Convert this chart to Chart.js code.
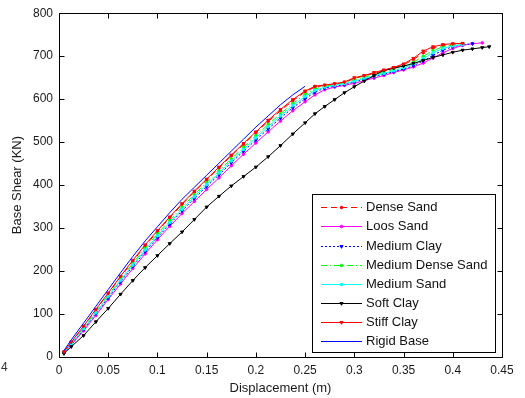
<!DOCTYPE html>
<html>
<head>
<meta charset="utf-8">
<script src="https://cdn.jsdelivr.net/npm/chart.js@4/dist/chart.umd.min.js"></script>
<style>
html,body{margin:0;padding:0;background:#fff;}
#wrap{width:525px;height:398px;position:relative;}
</style>
</head>
<body>
<div id="wrap"><canvas id="c" width="525" height="398"></canvas></div>
<script>
// ---- data ----
const seriesNames = ["Dense Sand","Loos Sand","Medium Clay","Medium Dense Sand","Medium Sand","Soft Clay","Stiff Clay","Rigid Base"];

// displacement (m) sample positions along the curves
const xLow  = [0.005,0.0125,0.025,0.0375,0.05,0.0625,0.075,0.0875,0.1,0.1125,0.125,0.1375,0.15,0.1625,0.175,0.1875,0.2,0.2125,0.225,0.2375,0.25];
const xHigh = [0.26,0.27,0.28,0.29,0.30,0.31,0.32,0.33,0.34,0.35,0.36,0.37,0.38,0.39,0.40,0.41,0.42,0.43,0.437];

// base shear (KN)
const yDenseSand       = [12,34,71,110,148,186,223,258,292,324,355,384,412,440,468,495,522,548,573,596,617, 628,632,635,639,648,654,660,666,672,680,692,708,719,725,728,729];
const yLoosSand        = [9,28,61,97,134,170,206,240,273,304,334,362,390,417,445,472,498,524,549,573,594, 610,622,628,632,637,643,649,655,662,668,675,684,696,708,718,725,729,731];
const yMediumClay      = [10,30,64,101,138,175,211,245,278,309,340,369,397,424,452,479,505,531,556,580,601, 616,626,630,634,640,646,652,658,664,670,678,689,702,714,722,727,729];
const yMediumDenseSand = [11,32,68,106,144,181,218,253,287,318,349,378,406,433,461,488,515,541,566,590,611, 624,630,634,638,645,651,657,663,669,676,686,700,713,722,726,728];
const yMediumSand      = [10,31,66,103,141,178,214,249,282,313,344,373,401,428,456,483,510,536,561,585,606, 620,628,632,636,642,648,654,660,666,673,682,694,708,718,724,727];
const ySoftClay        = [8,24,50,82,113,146,178,208,236,264,291,320,349,374,398,420,442,466,492,519,545, 566,583,599,615,629,642,655,667,672,677,683,690,697,703,709,714,717,720,722];
const yStiffClay       = [12,35,72,111,149,188,225,261,294,326,357,386,414,442,470,497,524,551,576,599,619, 630,633,636,640,650,655,662,668,674,682,695,712,722,727,729,730];
const yRigidBase       = [15,40,79,118,157,196,234,270,303,336,367,395,423,451,479,507,535,561,587,610,630];

const xTicks = [0,0.05,0.1,0.15,0.2,0.25,0.3,0.35,0.4,0.45];
const yTicks = [0,100,200,300,400,500,600,700,800];

// ---- build ----
const FONT = "'Liberation Sans', Arial, sans-serif";
const xAll = xLow.concat(xHigh);
function pts(ys){ return ys.map((y,i)=>({x:xAll[i],y:y})); }

const styles = [
  {c:'#ff0000', dash:[6,4], ps:'circle', pr:1.3, rot:0},
  {c:'#ff00ff', dash:[], ps:'circle', pr:1.3, rot:0},
  {c:'#0000ff', dash:[2,2], ps:'triangle', pr:1.8, rot:180},
  {c:'#00ff00', dash:[6,3,1,3], ps:'circle', pr:1.3, rot:0},
  {c:'#00ffff', dash:[], ps:'circle', pr:1.3, rot:0},
  {c:'#000000', dash:[], ps:'triangle', pr:1.8, rot:180},
  {c:'#ff0000', dash:[], ps:'triangle', pr:1.8, rot:180},
  {c:'#0000ff', dash:[], ps:false, pr:0, rot:0}
];
const ysAll = [yDenseSand,yLoosSand,yMediumClay,yMediumDenseSand,yMediumSand,ySoftClay,yStiffClay,yRigidBase];

const datasets = seriesNames.map((n,i)=>({
  label:n,
  data:pts(ysAll[i]),
  borderColor:styles[i].c,
  backgroundColor:styles[i].c,
  borderWidth:1,
  borderDash:styles[i].dash,
  pointStyle:styles[i].ps,
  pointRadius:styles[i].pr,
  pointRotation:styles[i].rot,
  pointBorderWidth:1,
  pointBorderColor:styles[i].c,
  pointBackgroundColor:styles[i].c,
  tension:0,
  fill:false,
  order: seriesNames.length - i
}));

const frame = {
  id:'frame',
  afterDatasetsDraw(chart){
    const ctx = chart.ctx, a = chart.chartArea;
    const xs = chart.scales.x, ys = chart.scales.y;
    ctx.save();
    ctx.strokeStyle = '#000';
    ctx.lineWidth = 1;
    ctx.setLineDash([]);
    const L = Math.round(a.left)+0.5, R = Math.round(a.right)+0.5, T = Math.round(a.top)+0.5, B = Math.round(a.bottom)+0.5;
    ctx.beginPath();
    ctx.rect(L, T, R-L, B-T);
    ctx.stroke();
    const tl = 5;
    ctx.beginPath();
    xTicks.forEach(v=>{
      const p = Math.round(xs.getPixelForValue(v))+0.5;
      ctx.moveTo(p,B); ctx.lineTo(p,B-tl);
      ctx.moveTo(p,T); ctx.lineTo(p,T+tl);
    });
    yTicks.forEach(v=>{
      const p = Math.round(ys.getPixelForValue(v))+0.5;
      ctx.moveTo(L,p); ctx.lineTo(L+tl,p);
      ctx.moveTo(R,p); ctx.lineTo(R-tl,p);
    });
    ctx.stroke();

    // legend box inside plot (bottom right)
    const bx = 312.5, by = 194.5, bw = 183, bh = 158;
    ctx.fillStyle = '#fff';
    ctx.fillRect(bx, by, bw, bh);
    ctx.strokeStyle = '#000';
    ctx.strokeRect(bx, by, bw, bh);
    ctx.font = '13px ' + FONT;
    ctx.textBaseline = 'middle';
    ctx.textAlign = 'left';
    seriesNames.forEach((name,i)=>{
      const st = styles[i];
      const yy = Math.round(207.3 + i*19.1) + 0.5;
      ctx.save();
      ctx.strokeStyle = st.c;
      ctx.fillStyle = st.c;
      ctx.lineWidth = 1;
      ctx.setLineDash(st.dash);
      ctx.beginPath();
      ctx.moveTo(321, yy); ctx.lineTo(362, yy);
      ctx.stroke();
      ctx.setLineDash([]);
      if (st.ps) {
        Chart.helpers.drawPoint(ctx, {pointStyle:st.ps, radius:st.pr, rotation:st.rot, borderWidth:1}, 341.5, yy);
      }
      ctx.restore();
      ctx.fillStyle = '#111';
      ctx.fillText(name, 366, yy);
    });

    // stray label at lower left of the figure
    ctx.font = '12px ' + FONT;
    ctx.fillStyle = '#333';
    ctx.textAlign = 'left';
    ctx.fillText('4', 1, 368);
    ctx.restore();
  }
};

new Chart(document.getElementById('c'), {
  type:'line',
  data:{datasets:datasets},
  options:{
    responsive:false,
    animation:false,
    events:[],
    layout:{padding:{left:0, top:11, right:23, bottom:0}},
    plugins:{legend:{display:false}, tooltip:{enabled:false}},
    scales:{
      x:{
        type:'linear', min:0, max:0.45,
        afterBuildTicks(s){ s.ticks = xTicks.map(v=>({value:v})); },
        afterFit(s){ s.height = 41; },
        grid:{display:false, drawTicks:false},
        border:{display:false},
        ticks:{padding:6, color:'#1a1a1a', font:{family:FONT, size:12}, maxRotation:0, autoSkip:false,
               callback:(v)=>String(+Number(v).toFixed(2))},
        title:{display:true, text:'Displacement (m)', color:'#1a1a1a', font:{family:FONT, size:13}, padding:{top:0,bottom:2}}
      },
      y:{
        type:'linear', min:0, max:800,
        afterBuildTicks(s){ s.ticks = yTicks.map(v=>({value:v})); },
        afterFit(s){ s.width = 59; },
        grid:{display:false, drawTicks:false},
        border:{display:false},
        ticks:{padding:6, color:'#1a1a1a', font:{family:FONT, size:12}, autoSkip:false},
        title:{display:true, text:'Base Shear (KN)', color:'#1a1a1a', font:{family:FONT, size:13}, padding:{top:10,bottom:0}}
      }
    }
  },
  plugins:[frame]
});
</script>
</body>
</html>
